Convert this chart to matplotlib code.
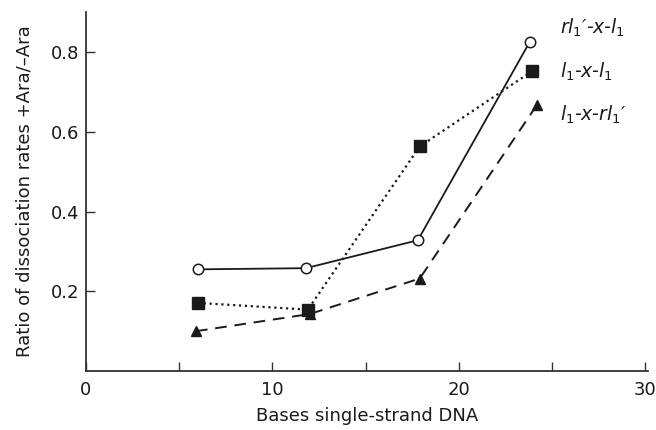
import matplotlib
matplotlib.use("Agg")
import matplotlib.pyplot as plt

plt.rcParams['font.family'] = ['DejaVu Sans']
plt.rcParams['mathtext.fontset'] = 'dejavusans'

# data
x_circ = [6.0, 11.8, 17.8, 23.8]
y_circ = [0.255, 0.258, 0.328, 0.825]
x_sq = [6.0, 11.9, 17.9, 23.9]
y_sq = [0.171, 0.154, 0.563, 0.751]
x_tri = [5.9, 12.0, 17.9, 24.2]
y_tri = [0.100, 0.143, 0.232, 0.668]

labels = ["$rl_1$\u2032-x-$l_1$", "$l_1$-x-$l_1$", "$l_1$-x-$rl_1$\u2032"]
label_y = [0.861, 0.750, 0.642]

fig = plt.figure(figsize=(6.56, 4.30), dpi=100)
ax = fig.add_axes([0.131, 0.137, 0.857, 0.835])

ink = '#1a1a1a'
ax.plot(x_circ, y_circ, '-', color=ink, lw=1.3, marker='o', ms=7.5,
        mfc='white', mec=ink, mew=1.1)
ax.plot(x_sq, y_sq, ':', color=ink, lw=1.6, marker='s', ms=8.5,
        mfc=ink, mec=ink)
ax.plot(x_tri, y_tri, color=ink, lw=1.4, ls=(0, (6, 4)), marker='^', ms=7.5,
        mfc=ink, mec=ink)

for lab, ly in zip(labels, label_y):
    ax.text(25.4, ly, lab, fontsize=13.5, style='italic', color=ink,
            va='center', ha='left')

ax.set_xlim(0, 30.15)
ax.set_ylim(0, 0.90)
ax.set_xticks([0, 5, 10, 15, 20, 25, 30])
ax.set_xticklabels(['0', '', '10', '', '20', '', '30'])
ax.set_yticks([0.2, 0.4, 0.6, 0.8])
ax.set_yticklabels(['0.2', '0.4', '0.6', '0.8'])
ax.tick_params(direction='in', length=6.5, width=1.0, color='#333333',
               labelsize=13, labelcolor=ink)
ax.tick_params(axis='x', pad=7)
ax.tick_params(axis='y', pad=4.5)
for s in ['top', 'right']:
    ax.spines[s].set_visible(False)
for s in ['left', 'bottom']:
    ax.spines[s].set_linewidth(1.3)
    ax.spines[s].set_color('#333333')

ax.set_xlabel('Bases single-strand DNA', fontsize=13, color=ink, labelpad=6)
ax.set_ylabel('Ratio of dissociation rates +Ara/\u2013Ara', fontsize=13,
              color=ink, labelpad=13)

fig.savefig('out.png', dpi=100)
